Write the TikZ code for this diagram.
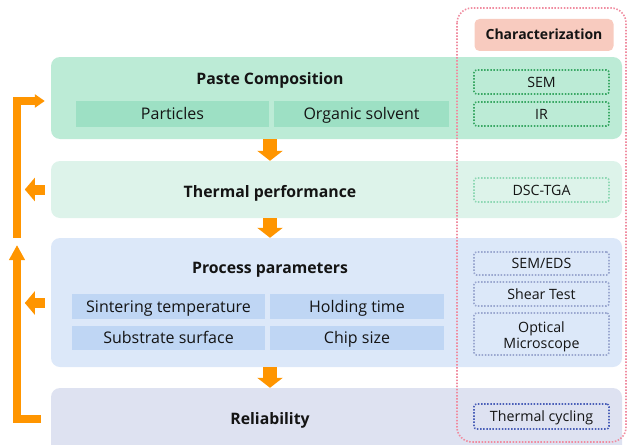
\documentclass[tikz,border=0pt]{standalone}
\usepackage{fontspec}
\setmainfont{Open Sans}
\usetikzlibrary{arrows.meta}
\definecolor{pcfill}{HTML}{BCEBD6}
\definecolor{pcsub}{HTML}{9DE0C4}
\definecolor{tpfill}{HTML}{DDF3EA}
\definecolor{ppfill}{HTML}{DCE8F9}
\definecolor{ppsub}{HTML}{BFD6F4}
\definecolor{relfill}{HTML}{DEE2F1}
\definecolor{charfill}{HTML}{F8CBBF}
\definecolor{pinkdot}{HTML}{F08CA0}
\definecolor{greendot}{HTML}{3AA865}
\definecolor{lightgreendot}{HTML}{8ED8B4}
\definecolor{greydot}{HTML}{9BA8D0}
\definecolor{bluedot}{HTML}{4A5FB8}
\definecolor{flow}{HTML}{FF9500}
\definecolor{ink}{HTML}{141414}
\tikzset{
  x=1pt, y=-1pt,
  stage/.style={rounded corners=9pt, inner sep=0pt, text=ink},
  title/.style={font=\fontsize{15.8}{18}\selectfont\bfseries, text=ink, inner sep=0pt, anchor=base},
  item/.style={inner sep=0pt, font=\fontsize{16}{18}\selectfont, text=ink,
    text height=15pt, text depth=3.6pt},
  probebox/.style={rounded corners=2.5pt, inner sep=0pt, line width=1.6pt,
    dash pattern=on 1.5pt off 1.6pt, font=\fontsize{14.2}{16}\selectfont, text=ink, align=center},
  probe/.style={probebox, text height=13.5pt, text depth=3.4pt},
  downflow/.style={draw=flow, line width=14pt, -{Triangle[width=25pt,length=10pt]}},
  sideflow/.style={draw=flow, line width=10pt, -{Triangle[width=23pt,length=10pt]}},
  loopflow/.style={draw=flow, line width=8pt, line join=miter},
}
\begin{document}
\begin{tikzpicture}
\useasboundingbox (0,0) rectangle (628,444);
\clip (0,0) rectangle (628,444);

% stage panels
\node[stage, fill=pcfill, minimum width=571pt, minimum height=82pt] (pc) at (336.5,98) {};
\node[stage, fill=tpfill, minimum width=571pt, minimum height=57pt] (tp) at (336.5,189.5) {};
\node[stage, fill=ppfill, minimum width=571pt, minimum height=129pt] (pp) at (336.5,302.5) {};
\node[stage, fill=relfill, minimum width=571pt, minimum height=80pt] (rel) at (336.5,428) {};

% panel titles (placed on their baselines)
\node[title] (pct) at (270,84) {Paste Composition};
\node[title] (tpt) at (270,197) {Thermal performance};
\node[title] (ppt) at (270,273.5) {Process parameters};
\node[title] (relt) at (270,424) {Reliability};

% composition items
\node[item, fill=pcsub, minimum width=193pt, minimum height=26pt] (part) at (172.5,114) {Particles};
\node[item, fill=pcsub, minimum width=175pt, minimum height=26pt] (solv) at (361.5,114) {Organic solvent};

% process items
\node[item, fill=ppsub, minimum width=193pt, minimum height=25pt] (sint) at (168.5,306.5) {Sintering temperature};
\node[item, fill=ppsub, minimum width=174pt, minimum height=25pt] (hold) at (357,306.5) {Holding time};
\node[item, fill=ppsub, minimum width=193pt, minimum height=24pt] (subs) at (168.5,338) {Substrate surface};
\node[item, fill=ppsub, minimum width=174pt, minimum height=24pt] (chip) at (357,338) {Chip size};

% characterization column
\draw[pinkdot, line width=1.6pt, dash pattern=on 1.5pt off 1.6pt, rounded corners=15pt]
  (457,8) rectangle (626,442);
\node[fill=charfill, rounded corners=5pt, minimum width=139pt, minimum height=32pt,
  font=\fontsize{14}{16}\selectfont\bfseries, text=ink, inner sep=0pt,
  text height=13.2pt, text depth=3.2pt] (char) at (544,35) {Characterization};
\node[probe, draw=greendot, minimum width=135pt, minimum height=24pt] (sem) at (541.5,82) {SEM};
\node[probe, draw=greendot, minimum width=135pt, minimum height=24pt] (ir) at (541.5,114) {IR};
\node[probe, draw=lightgreendot, minimum width=135pt, minimum height=24pt] (dsc) at (541.5,190) {DSC-TGA};
\node[probe, draw=greydot, minimum width=135pt, minimum height=23pt] (eds) at (541.5,263.5) {SEM/EDS};
\node[probe, draw=greydot, minimum width=135pt, minimum height=24pt] (shear) at (541.5,294) {Shear Test};
\node[probebox, draw=greydot, minimum width=135pt, minimum height=42pt] (optic) at (541.5,334) {};
\node[probebox, inner sep=0pt] (optict) at ([yshift=-2.5pt]optic.center) {Optical\\Microscope};
\node[probe, draw=bluedot, minimum width=135pt, minimum height=25pt] (cyc) at (541.5,416.5) {Thermal cycling};

% forward flow between stages
\draw[downflow] (pc.south -| 270,0) -- (tp.north -| 270,0);
\draw[downflow] (tp.south -| 270,0) -- (pp.north -| 270,0);
\draw[downflow] (pp.south -| 270,0) -- (rel.north -| 270,0);

% outputs to the left of the middle stages
\draw[sideflow] ([xshift=-6pt]tp.west) -- ++(-20,0);
\draw[sideflow] ([xshift=-6pt]pp.west |- 0,303) -- ++(-20,0);

% feedback loops
\coordinate (fb1) at (17,238);
\coordinate (fb2) at (41,419);
\draw[loopflow, -{Triangle[width=13pt,length=10pt]}] (fb1) -- (17,101) -- ([xshift=-6pt]pc.west |- 0,101);
\draw[loopflow, -{Triangle[width=15pt,length=15pt]}] (fb2) -- (17,419) -- (17,245);
\end{tikzpicture}
\end{document}
